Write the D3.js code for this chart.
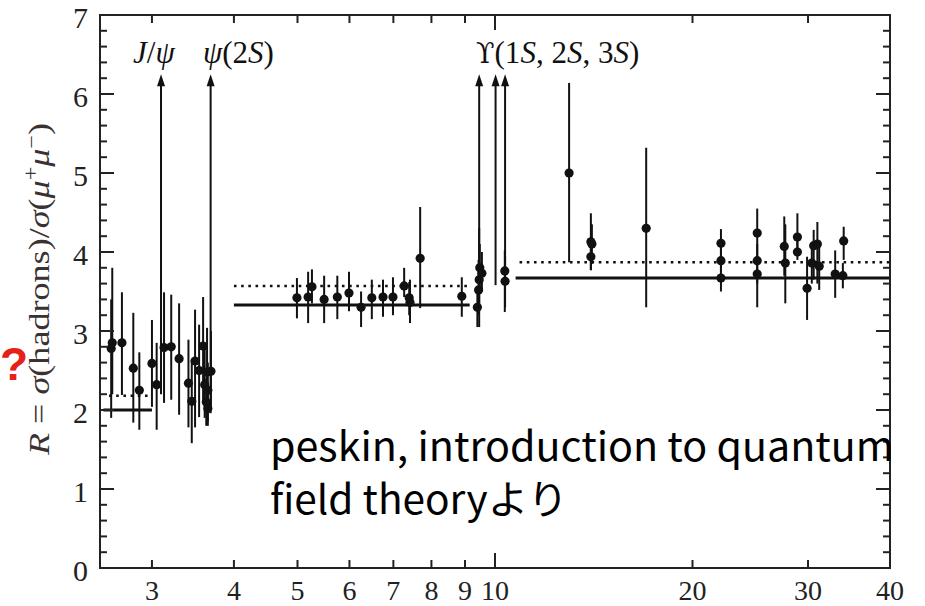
<!DOCTYPE html>
<html>
<head>
<meta charset="utf-8">
<script src="https://cdn.jsdelivr.net/npm/d3@7"></script>
<style>
  body { margin: 0; background: #fff; }
  svg { display: block; }
</style>
</head>
<body>
<svg id="chart" width="925" height="606"></svg>
<script>
// [energy GeV, R, lower, upper]
var charmPoints = [
  [2.60, 2.78, 1.90, 3.40], [2.61, 2.85, 2.20, 3.80], [2.70, 2.85, 2.19, 3.49],
  [2.81, 2.53, 1.84, 3.23], [2.87, 2.25, 1.75, 2.73], [3.00, 2.59, 2.04, 3.14],
  [3.05, 2.32, 1.75, 2.85], [3.13, 2.79, 2.09, 3.49], [3.21, 2.80, 2.13, 3.46],
  [3.30, 2.65, 1.94, 3.35], [3.41, 2.34, 1.78, 2.89], [3.45, 2.11, 1.58, 2.63],
  [3.49, 2.62, 1.78, 3.27], [3.54, 2.50, 1.91, 3.08], [3.59, 2.81, 2.09, 3.43],
  [3.61, 2.32, 1.90, 2.80], [3.64, 2.48, 2.00, 3.04], [3.63, 2.10, 1.80, 2.40],
  [3.65, 2.25, 1.85, 2.60], [3.65, 2.02, 1.80, 2.30], [3.69, 2.49, 2.00, 3.00]
];
var lightPoints = [
  [4.99, 3.42, 3.16, 3.67], [5.19, 3.43, 3.10, 3.75], [5.26, 3.56, 3.35, 3.78],
  [5.49, 3.40, 3.10, 3.70], [5.75, 3.43, 3.15, 3.70], [5.99, 3.48, 3.25, 3.75],
  [6.25, 3.30, 3.05, 3.50], [6.49, 3.42, 3.15, 3.65], [6.75, 3.43, 3.18, 3.65],
  [6.99, 3.43, 3.20, 3.68], [7.27, 3.57, 3.43, 3.80], [7.40, 3.42, 3.20, 3.62],
  [7.42, 3.36, 3.10, 3.65], [7.69, 3.92, 3.29, 4.57], [8.90, 3.44, 3.18, 3.68],
  [9.40, 3.30, 3.05, 3.55], [9.44, 3.52, 3.20, 3.90], [9.46, 3.65, 3.30, 4.30],
  [9.48, 3.80, 3.50, 4.10], [9.55, 3.73, 3.50, 4.00],
  [10.35, 3.76, 3.24, 4.02], [10.36, 3.63, 3.30, 3.95]
];
var bottomPoints = [
  [12.97, 5.00, 3.87, 6.14], [14.0, 4.13, 3.77, 4.49], [14.05, 4.10, 3.85, 4.35],
  [14.0, 3.94, 3.77, 4.15], [17.0, 4.30, 3.30, 5.32],
  [22.1, 4.11, 3.90, 4.29], [22.1, 3.89, 3.75, 4.05], [22.1, 3.67, 3.50, 3.85],
  [25.1, 4.24, 3.90, 4.55], [25.1, 3.89, 3.60, 4.10], [25.1, 3.72, 3.30, 3.90],
  [27.6, 4.07, 3.70, 4.45], [27.7, 3.86, 3.35, 4.35], [28.9, 4.19, 4.00, 4.49],
  [28.9, 4.00, 3.90, 4.15], [29.9, 3.54, 3.14, 3.94], [30.4, 3.86, 3.60, 4.10],
  [30.6, 4.08, 3.65, 4.28], [31.0, 4.10, 3.60, 4.38], [31.2, 3.82, 3.52, 4.11],
  [33.0, 3.72, 3.42, 4.02], [33.9, 3.70, 3.54, 3.86], [34.0, 4.14, 3.90, 4.32]
];

// resonance peaks drawn as arrows
var arrowEnergy = [3.097, 3.686, 9.46, 10.02, 10.36];
var arrowBase = [2.20, 1.96, 3.05, 3.58, 3.60];
var arrowTop = 6.25;

// quark model steps: [from, to, R]
var solidSteps = [[2.53, 3.0, 2.0], [4.0, 9.15, 3.33], [10.75, 40, 3.67]];
var dottedSteps = [[2.58, 3.0, 2.18], [4.0, 9.1, 3.57], [10.9, 40, 3.87]];

var xTicks = [3, 4, 5, 6, 7, 8, 9, 10, 20, 30, 40];
var yTicks = [0, 1, 2, 3, 4, 5, 6, 7];

var svg = d3.select("#chart"),
    x = d3.scaleLog().domain([2.5, 40]).range([100, 890]),
    y = d3.scaleLinear().domain([0, 7]).range([568, 15]),
    serif = "'Liberation Serif', 'DejaVu Serif', serif";

var points = charmPoints.concat(lightPoints, bottomPoints);

// step lines
svg.selectAll(".solid").data(solidSteps).enter().append("line")
    .attr("x1", function (d) { return x(d[0]); })
    .attr("x2", function (d) { return x(d[1]); })
    .attr("y1", function (d) { return y(d[2]); })
    .attr("y2", function (d) { return y(d[2]); })
    .attr("stroke", "#111").attr("stroke-width", 3);

svg.selectAll(".dotted").data(dottedSteps).enter().append("line")
    .attr("x1", function (d) { return x(d[0]); })
    .attr("x2", function (d) { return x(d[1]); })
    .attr("y1", function (d) { return y(d[2]); })
    .attr("y2", function (d) { return y(d[2]); })
    .attr("stroke", "#111").attr("stroke-width", 2.6)
    .attr("stroke-dasharray", "2.6,4.6");

// error bars and dots
svg.selectAll(".err").data(points).enter().append("line")
    .attr("x1", function (d) { return x(d[0]); })
    .attr("x2", function (d) { return x(d[0]); })
    .attr("y1", function (d) { return y(d[2]); })
    .attr("y2", function (d) { return y(d[3]); })
    .attr("stroke", "#111").attr("stroke-width", 2);

svg.selectAll(".dot").data(points).enter().append("circle")
    .attr("cx", function (d) { return x(d[0]); })
    .attr("cy", function (d) { return y(d[1]); })
    .attr("r", 4.6).attr("fill", "#111");

// resonance arrows
arrowEnergy.forEach(function (e, i) {
  var px = x(e);
  svg.append("line")
      .attr("x1", px).attr("x2", px)
      .attr("y1", y(arrowBase[i])).attr("y2", y(arrowTop) + 8)
      .attr("stroke", "#111").attr("stroke-width", 2);
  svg.append("path")
      .attr("d", "M" + (px - 4) + "," + (y(arrowTop) + 12) + "L" + px + "," + y(arrowTop) +
                 "L" + (px + 4) + "," + (y(arrowTop) + 12) + "Z")
      .attr("fill", "#111");
});

// frame
svg.append("rect").attr("x", 100).attr("y", 15).attr("width", 790).attr("height", 553)
    .attr("fill", "none").attr("stroke", "#222").attr("stroke-width", 2);

// ticks
var minorY = d3.range(0, 7.001, 0.2);
svg.selectAll(".ytl").data(minorY).enter().append("line")
    .attr("x1", 100)
    .attr("x2", function (d) { return Math.abs(d - Math.round(d)) < 1e-6 ? 114 : 107; })
    .attr("y1", function (d) { return y(d); }).attr("y2", function (d) { return y(d); })
    .attr("stroke", "#222").attr("stroke-width", 2);
svg.selectAll(".ytr").data(minorY).enter().append("line")
    .attr("x1", 890)
    .attr("x2", function (d) { return Math.abs(d - Math.round(d)) < 1e-6 ? 876 : 883; })
    .attr("y1", function (d) { return y(d); }).attr("y2", function (d) { return y(d); })
    .attr("stroke", "#222").attr("stroke-width", 2);

svg.selectAll(".xtb").data(xTicks.slice(0, -1)).enter().append("line")
    .attr("x1", function (d) { return x(d); }).attr("x2", function (d) { return x(d); })
    .attr("y1", 568).attr("y2", function (d) { return d === 10 ? 553 : 560; })
    .attr("stroke", "#222").attr("stroke-width", 2);
svg.selectAll(".xtt").data(xTicks.slice(0, -1)).enter().append("line")
    .attr("x1", function (d) { return x(d); }).attr("x2", function (d) { return x(d); })
    .attr("y1", 15).attr("y2", function (d) { return d === 10 ? 30 : 23; })
    .attr("stroke", "#222").attr("stroke-width", 2);

// tick labels
svg.selectAll(".yl").data(yTicks).enter().append("text")
    .attr("x", 88).attr("y", function (d) { return y(d) + 13; })
    .attr("text-anchor", "end")
    .style("font-family", serif).style("font-size", "30px").attr("fill", "#222")
    .text(function (d) { return d; });

svg.selectAll(".xl").data(xTicks).enter().append("text")
    .attr("x", function (d) { return x(d); }).attr("y", 600)
    .attr("text-anchor", "middle")
    .style("font-family", serif).style("font-size", "28px").attr("fill", "#222")
    .text(function (d) { return d; });

// resonance labels
function label(px, parts) {
  var t = svg.append("text").attr("x", px).attr("y", 63)
      .style("font-family", serif).style("font-size", "31px").attr("fill", "#111");
  parts.forEach(function (p) {
    var s = t.append("tspan").style("font-style", p[1] ? "italic" : "normal").text(p[0]);
    if (p[2]) s.style("font-family", "'DejaVu Serif', serif").style("font-size", "27px");
  });
}
label(133, [["J", 1], ["/", 0], ["ψ", 1]]);
label(203, [["ψ", 1], ["(2", 0], ["S", 1], [")", 0]]);
label(476, [["ϒ", 0, 1], ["(1", 0], ["S", 1], [", 2", 0], ["S", 1], [", 3", 0], ["S", 1], [")", 0]]);

// y axis title
var yt = svg.append("text")
    .attr("transform", "translate(49,289) rotate(-90)")
    .attr("text-anchor", "middle")
    .attr("textLength", 332).attr("lengthAdjust", "spacingAndGlyphs")
    .style("font-family", serif).style("font-size", "30px").attr("fill", "#3a3232");
[["R", 1], [" = ", 0], ["σ", 1], ["(hadrons)/", 0], ["σ", 1], ["(", 0], ["μ", 1]].forEach(function (p) {
  yt.append("tspan").style("font-style", p[1] ? "italic" : "normal").text(p[0]);
});
yt.append("tspan").attr("dy", -11).style("font-size", "20px").text("+");
yt.append("tspan").attr("dy", 11).style("font-style", "italic").text("μ");
yt.append("tspan").attr("dy", -11).style("font-size", "20px").text("−");
yt.append("tspan").attr("dy", 11).text(")");

// red question mark
svg.append("text").attr("x", 0).attr("y", 380)
    .style("font-family", "'Liberation Sans', sans-serif").style("font-size", "46px")
    .style("font-weight", "bold").attr("fill", "#e8201a").text("?");

// note
var note = "'Noto Sans CJK JP', 'Noto Sans', sans-serif";
svg.append("text").attr("x", 270).attr("y", 461)
    .style("font-family", note).style("font-size", "40px").attr("fill", "#000")
    .attr("textLength", 624).attr("lengthAdjust", "spacingAndGlyphs")
    .text("peskin, introduction to quantum");
svg.append("text").attr("x", 270).attr("y", 514)
    .style("font-family", note).style("font-size", "40px").attr("fill", "#000")
    .attr("textLength", 298).attr("lengthAdjust", "spacingAndGlyphs")
    .text("field theoryより");
</script>
</body>
</html>
